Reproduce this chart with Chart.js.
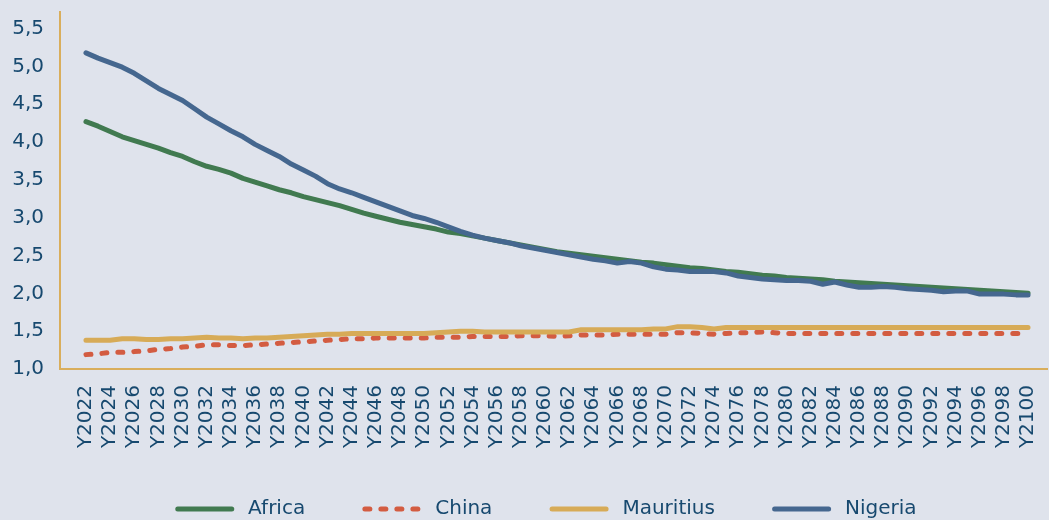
<!DOCTYPE html>
<html>
<head>
<meta charset="utf-8">
<script src="https://cdn.jsdelivr.net/npm/chart.js@4"></script>
<style>
  html, body { margin: 0; padding: 0; background: #dfe3ec; }
  #fertilityChart { display: block; }
</style>
</head>
<body>
<canvas id="fertilityChart" width="1049" height="520"></canvas>
<script>
const years = Array.from({ length: 79 }, (_, i) => 2022 + i);
const tickYears = years.filter((y) => y % 2 === 0);

const africa = [
  4.27, 4.21, 4.14, 4.07, 4.02, 3.97, 3.92, 3.86, 3.81, 3.74,
  3.68, 3.64, 3.59, 3.52, 3.47, 3.42, 3.37, 3.33, 3.28, 3.24,
  3.20, 3.16, 3.11, 3.06, 3.02, 2.98, 2.94, 2.91, 2.88, 2.85,
  2.81, 2.79, 2.76, 2.73, 2.70, 2.67, 2.64, 2.61, 2.58, 2.55,
  2.53, 2.51, 2.49, 2.47, 2.45, 2.43, 2.41, 2.40, 2.38, 2.36,
  2.34, 2.33, 2.31, 2.29, 2.28, 2.26, 2.24, 2.23, 2.21, 2.20,
  2.19, 2.18, 2.16, 2.15, 2.14, 2.13, 2.12, 2.11, 2.10, 2.09,
  2.08, 2.07, 2.06, 2.05, 2.04, 2.03, 2.02, 2.01, 2.00,
];

const china = [
  1.19, 1.20, 1.22, 1.22, 1.23, 1.24, 1.26, 1.27, 1.29, 1.30,
  1.32, 1.32, 1.31, 1.31, 1.32, 1.33, 1.34, 1.35, 1.36, 1.37,
  1.38, 1.39, 1.40, 1.40, 1.41, 1.41, 1.41, 1.41, 1.41, 1.42,
  1.42, 1.42, 1.43, 1.43, 1.43, 1.43, 1.44, 1.44, 1.44, 1.43,
  1.44, 1.45, 1.45, 1.45, 1.46, 1.46, 1.46, 1.46, 1.46, 1.48,
  1.48, 1.47, 1.46, 1.47, 1.48, 1.48, 1.49, 1.48, 1.47, 1.47,
  1.47, 1.47, 1.47, 1.47, 1.47, 1.47, 1.47, 1.47, 1.47, 1.47,
  1.47, 1.47, 1.47, 1.47, 1.47, 1.47, 1.47, 1.47, 1.47,
];

const mauritius = [
  1.38, 1.38, 1.38, 1.40, 1.40, 1.39, 1.39, 1.40, 1.40, 1.41,
  1.42, 1.41, 1.41, 1.40, 1.41, 1.41, 1.42, 1.43, 1.44, 1.45,
  1.46, 1.46, 1.47, 1.47, 1.47, 1.47, 1.47, 1.47, 1.47, 1.48,
  1.49, 1.50, 1.50, 1.49, 1.49, 1.49, 1.49, 1.49, 1.49, 1.49,
  1.49, 1.52, 1.52, 1.52, 1.52, 1.52, 1.52, 1.53, 1.53, 1.56,
  1.56, 1.55, 1.53, 1.55, 1.55, 1.55, 1.55, 1.55, 1.55, 1.55,
  1.55, 1.55, 1.55, 1.55, 1.55, 1.55, 1.55, 1.55, 1.55, 1.55,
  1.55, 1.55, 1.55, 1.55, 1.55, 1.55, 1.55, 1.55, 1.55,
];

const nigeria = [
  5.18, 5.11, 5.05, 4.99, 4.91, 4.81, 4.71, 4.63, 4.55, 4.44,
  4.33, 4.24, 4.15, 4.07, 3.97, 3.89, 3.81, 3.71, 3.63, 3.55,
  3.45, 3.38, 3.33, 3.27, 3.21, 3.15, 3.09, 3.03, 2.99, 2.94,
  2.88, 2.82, 2.77, 2.73, 2.70, 2.67, 2.63, 2.60, 2.57, 2.54,
  2.51, 2.48, 2.45, 2.43, 2.40, 2.42, 2.40, 2.35, 2.32, 2.31,
  2.29, 2.29, 2.29, 2.27, 2.23, 2.21, 2.19, 2.18, 2.17, 2.17,
  2.16, 2.12, 2.15, 2.11, 2.08, 2.08, 2.09, 2.08, 2.06, 2.05,
  2.04, 2.02, 2.03, 2.03, 1.99, 1.99, 1.99, 1.98, 1.98,
];

const textColor = '#17496f';
const axisColor = '#d9ae5c';

Chart.defaults.font.family = '"DejaVu Sans", sans-serif';
Chart.defaults.font.size = 20;
Chart.defaults.color = textColor;

function series(label, data, color, order, dash) {
  return {
    label,
    data,
    borderColor: color,
    backgroundColor: color,
    borderWidth: 5,
    borderDash: dash || [],
    borderCapStyle: 'round',
    borderJoinStyle: 'round',
    pointRadius: 0,
    pointHoverRadius: 0,
    tension: 0,
    fill: false,
    order,
  };
}

const ctx = document.getElementById('fertilityChart').getContext('2d');

new Chart(ctx, {
  type: 'line',
  data: {
    labels: years,
    datasets: [
      series('Africa', africa, '#417a50', 3),
      series('China', china, '#d35c41', 2, [5, 11]),
      series('Mauritius', mauritius, '#d7ab57', 1),
      series('Nigeria', nigeria, '#45678f', 0),
    ],
  },
  options: {
    responsive: false,
    animation: false,
    layout: {
      padding: { top: 12, left: 12, right: 2, bottom: 0 },
    },
    scales: {
      x: {
        type: 'linear',
        min: 2019.85,
        max: 2101.57,
        bounds: 'data',
        grid: { display: false, drawTicks: false },
        border: { color: axisColor, width: 2 },
        afterBuildTicks: (axis) => {
          axis.ticks = tickYears.map((v) => ({ value: v }));
        },
        afterFit: (axis) => {
          axis.height = 83;
          axis.paddingLeft = 0;
          axis.paddingRight = 0;
        },
        ticks: {
          autoSkip: false,
          minRotation: 90,
          maxRotation: 90,
          padding: 16,
          color: textColor,
          callback: (v) => `Y${v}`,
        },
      },
      y: {
        min: 1,
        max: 5.72,
        grid: { display: false, drawTicks: false },
        border: { color: axisColor, width: 2 },
        afterFit: (axis) => {
          axis.width = 48;
          axis.paddingTop = 0;
          axis.paddingBottom = 0;
        },
        ticks: {
          stepSize: 0.5,
          includeBounds: false,
          padding: 16,
          color: textColor,
          callback: (v) => v.toFixed(1).replace('.', ','),
        },
      },
    },
    plugins: {
      tooltip: { enabled: false },
      legend: {
        position: 'bottom',
        fullSize: false,
        maxHeight: 68,
        labels: {
          usePointStyle: true,
          pointStyle: 'line',
          pointStyleWidth: 54,
          padding: 47,
          color: textColor,
          font: { size: 20 },
          generateLabels: (chart) => {
            const items = Chart.defaults.plugins.legend.labels.generateLabels(chart);
            return items
              .map((item) => {
                const ds = chart.data.datasets[item.datasetIndex];
                return {
                  ...item,
                  text: ` ${item.text}  `,
                  strokeStyle: ds.borderColor,
                  lineWidth: ds.borderWidth,
                  lineDash: ds.borderDash,
                  lineCap: 'round',
                };
              })
              .sort((a, b) => a.datasetIndex - b.datasetIndex);
          },
        },
      },
    },
  },
});
</script>
</body>
</html>
